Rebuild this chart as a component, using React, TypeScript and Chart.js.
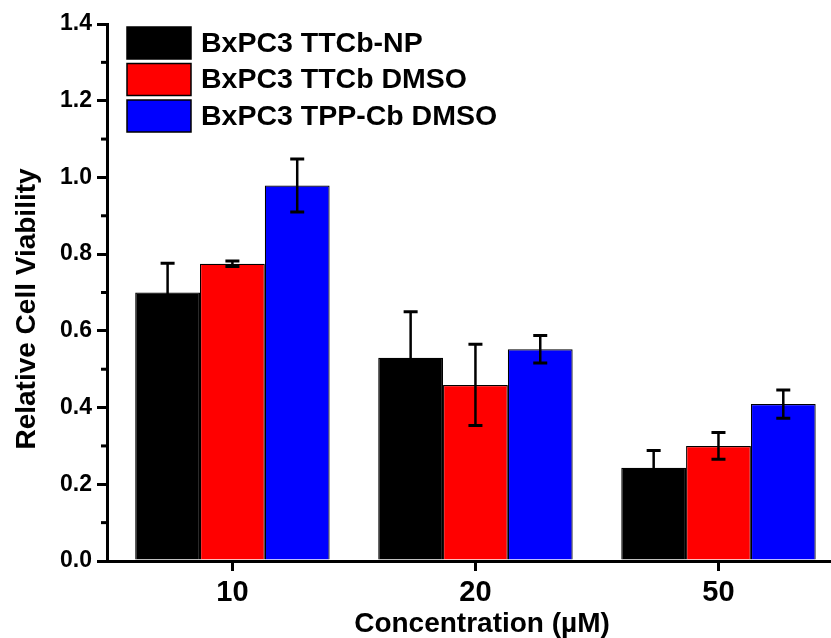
import React, { useEffect, useRef } from 'react';
import { Chart, registerables } from 'chart.js';

Chart.register(...registerables);

const categories = ['10', '20', '50'];
const seriesLabels = ['BxPC3 TTCb-NP', 'BxPC3 TTCb DMSO', 'BxPC3 TPP-Cb DMSO'];
const ttcbNp = [0.70, 0.53, 0.243];
const ttcbNpErr = [0.076, 0.12, 0.045];
const ttcbDmso = [0.775, 0.459, 0.30];
const ttcbDmsoErr = [0.007, 0.106, 0.035];
const tppCbDmso = [0.979, 0.552, 0.409];
const tppCbDmsoErr = [0.069, 0.036, 0.037];
const seriesColors = ['#000000', '#FF0000', '#0000FF'];
const xTitle = 'Concentration (\u00b5M)';
const yTitle = 'Relative Cell Viability';

const FONT = '"Liberation Sans", Arial, Helvetica, sans-serif';

const values = [ttcbNp, ttcbDmso, tppCbDmso];
const errors = [ttcbNpErr, ttcbDmsoErr, tppCbDmsoErr];

const errorBarPlugin = {
  id: 'errorBars',
  afterDatasetsDraw(chart: any) {
    const ctx = chart.ctx;
    const yScale = chart.scales.y;
    ctx.save();
    ctx.strokeStyle = '#000';
    chart.data.datasets.forEach((ds: any, di: number) => {
      const meta = chart.getDatasetMeta(di);
      meta.data.forEach((el: any, i: number) => {
        const v = values[di][i];
        const e = errors[di][i];
        const yt = yScale.getPixelForValue(v + e);
        const yb = yScale.getPixelForValue(v - e);
        const x = el.x;
        ctx.lineWidth = 2.5;
        ctx.beginPath();
        ctx.moveTo(x, yt);
        ctx.lineTo(x, yb);
        ctx.stroke();
        ctx.lineWidth = 3;
        ctx.beginPath();
        ctx.moveTo(x - 7, yt);
        ctx.lineTo(x + 7, yt);
        ctx.moveTo(x - 7, yb);
        ctx.lineTo(x + 7, yb);
        ctx.stroke();
      });
    });
    ctx.restore();
  },
};

const decorPlugin = {
  id: 'decor',
  afterDraw(chart: any) {
    const ctx = chart.ctx;
    const yScale = chart.scales.y;
    const area = chart.chartArea;
    ctx.save();
    // minor ticks on y axis
    ctx.strokeStyle = '#000';
    ctx.lineWidth = 3;
    for (let k = 1; k < 14; k += 2) {
      const y = yScale.getPixelForValue(k / 10);
      ctx.beginPath();
      ctx.moveTo(area.left - 6, y);
      ctx.lineTo(area.left, y);
      ctx.stroke();
    }
    // legend
    ctx.font = `bold 28.5px ${FONT}`;
    ctx.textBaseline = 'middle';
    ctx.textAlign = 'left';
    chart.data.datasets.forEach((ds: any, i: number) => {
      const top = 27 + i * 36.5;
      ctx.fillStyle = ds.backgroundColor;
      ctx.fillRect(127, top, 64, 32);
      ctx.lineWidth = 1.5;
      ctx.strokeStyle = '#000';
      ctx.strokeRect(127, top, 64, 32);
      ctx.fillStyle = '#000';
      ctx.fillText(ds.label, 201, top + 17);
    });
    // y title
    ctx.save();
    ctx.translate(35, 309);
    ctx.rotate(-Math.PI / 2);
    ctx.font = `bold 28px ${FONT}`;
    ctx.textAlign = 'center';
    ctx.textBaseline = 'alphabetic';
    ctx.fillStyle = '#000';
    ctx.fillText(yTitle, 0, 0);
    ctx.restore();
    // x title
    ctx.font = `bold 28px ${FONT}`;
    ctx.textAlign = 'center';
    ctx.textBaseline = 'alphabetic';
    ctx.fillStyle = '#000';
    ctx.fillText(xTitle, 482, 632);
    ctx.restore();
  },
};

export default function App() {
  const ref = useRef<HTMLCanvasElement | null>(null);
  useEffect(() => {
    if (!ref.current) return;
    const chart = new Chart(ref.current, {
      type: 'bar',
      data: {
        datasets: seriesLabels.map((label, di) => ({
          label,
          data: values[di].map((v, i) => ({ x: i, y: v })),
          backgroundColor: seriesColors[di],
          borderColor: '#000',
          borderWidth: 1.2,
          categoryPercentage: 0.8,
          barPercentage: 1.0,
        })),
      },
      options: {
        animation: false,
        responsive: false,
        maintainAspectRatio: false,
        layout: { padding: { top: 24, right: 0, left: 0, bottom: 0 } },
        plugins: {
          legend: { display: false },
          tooltip: { enabled: false },
          title: { display: false },
        },
        scales: {
          x: {
            type: 'linear',
            min: -0.516,
            max: 2.463,
            offset: false,
            afterBuildTicks: (scale: any) => {
              scale.ticks = categories.map((_, i) => ({ value: i }));
            },
            afterFit: (scale: any) => {
              scale.height = 77;
            },
            ticks: {
              autoSkip: false,
              color: '#000',
              padding: 5,
              font: { family: FONT, size: 29, weight: 'bold' },
              callback: (v: any) => categories[Math.round(Number(v))] ?? '',
            },
            grid: {
              display: true,
              offset: false,
              drawOnChartArea: false,
              drawTicks: true,
              tickLength: 10,
              lineWidth: 3,
              color: '#000',
            },
            border: { display: true, width: 3, color: '#000' },
          },
          y: {
            min: 0,
            max: 1.4,
            afterFit: (scale: any) => {
              scale.width = 107;
            },
            ticks: {
              stepSize: 0.2,
              color: '#000',
              padding: 5,
              font: { family: FONT, size: 23, weight: 'bold' },
              callback: (v: any) => Number(v).toFixed(1),
            },
            grid: {
              display: true,
              drawOnChartArea: false,
              drawTicks: true,
              tickLength: 10,
              lineWidth: 3,
              color: '#000',
            },
            border: { display: true, width: 3, color: '#000' },
          },
        },
      } as any,
      plugins: [errorBarPlugin, decorPlugin],
    });
    return () => chart.destroy();
  }, []);
  return (
    <div style={{ position: 'fixed', left: 0, top: 0, width: 831, height: 638, background: '#fff' }}>
      <canvas ref={ref} width={831} height={638} style={{ display: 'block', width: 831, height: 638 }} />
    </div>
  );
}
